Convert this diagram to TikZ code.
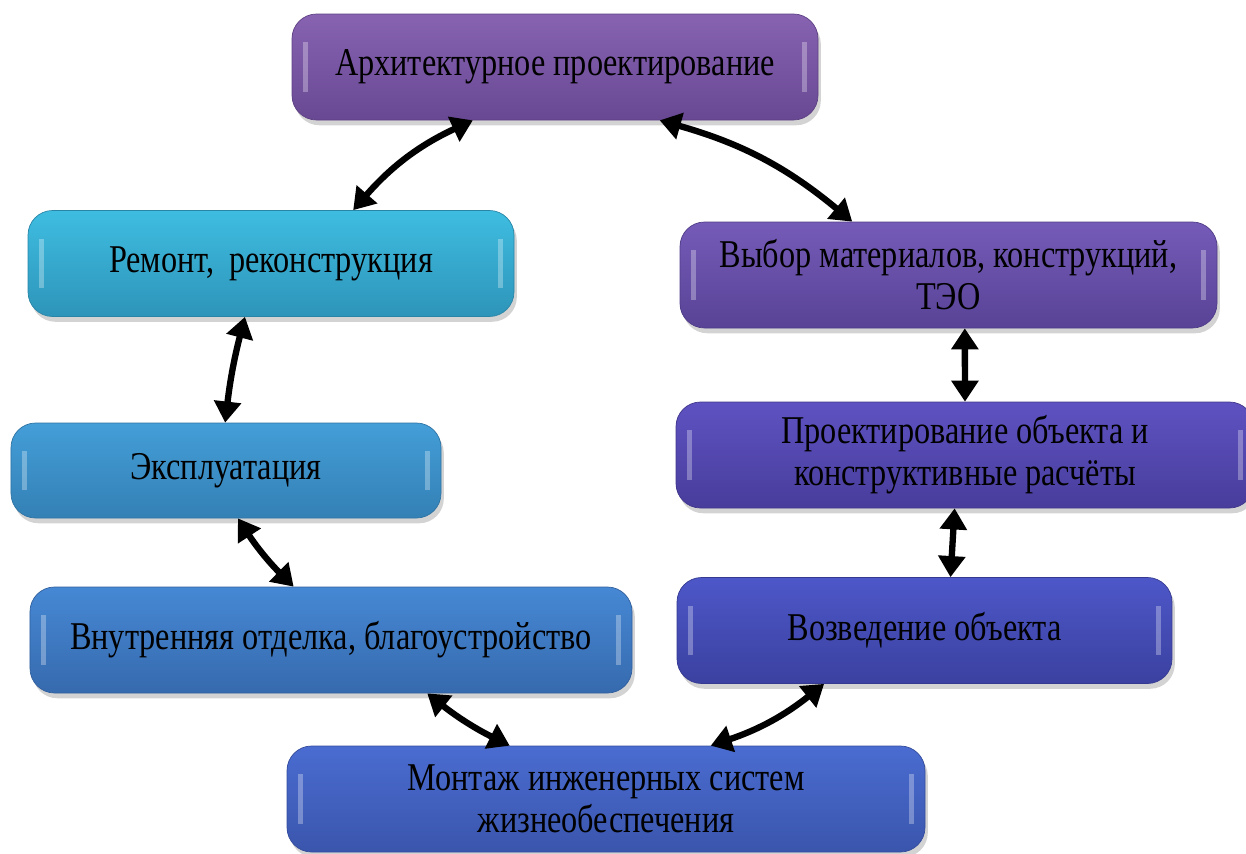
\documentclass[tikz,border=0pt]{standalone}
\usepackage{fontspec}
\setmainfont{Liberation Serif}
\newfontfamily\stagefont[FakeStretch=0.82]{Liberation Serif}
\usepackage{tikz}
\usetikzlibrary{arrows.meta,shadows}

\definecolor{archtop}{HTML}{8763B2}
\definecolor{archbot}{HTML}{684893}
\definecolor{remtop}{HTML}{3EBDE1}
\definecolor{rembot}{HTML}{2E94B9}
\definecolor{explTop}{HTML}{449ED8}
\definecolor{explBot}{HTML}{3380B5}
\definecolor{vnuTop}{HTML}{4688D4}
\definecolor{vnuBot}{HTML}{366AAE}
\definecolor{monTop}{HTML}{4A6CD1}
\definecolor{monBot}{HTML}{3A55AC}
\definecolor{vozTop}{HTML}{4D57C8}
\definecolor{vozBot}{HTML}{3B41A0}
\definecolor{proTop}{HTML}{5E52C2}
\definecolor{proBot}{HTML}{483D9B}
\definecolor{vybTop}{HTML}{755BB8}
\definecolor{vybBot}{HTML}{584396}

\tikzset{
    stage/.style 2 args={rounded corners=7pt, top color=#1, bottom color=#2,
        draw=#2!90!black, line width=0.2pt,
        minimum height=1.06cm, align=center, inner sep=2pt,
        font=\stagefont\fontsize{11.2}{12}\selectfont,
        drop shadow={opacity=0.35, shadow xshift=0.8pt, shadow yshift=-1.5pt},
        path picture={
            \fill[white, opacity=0.3, sharp corners] ([xshift=3pt,yshift=-8pt]path picture bounding box.north west) rectangle ([xshift=4.5pt,yshift=8pt]path picture bounding box.south west);
            \fill[white, opacity=0.3, sharp corners] ([xshift=-4.5pt,yshift=-8pt]path picture bounding box.north east) rectangle ([xshift=-3pt,yshift=8pt]path picture bounding box.south east);
        }},
    link/.style={line width=1.8pt, {Triangle[length=6pt,width=7.5pt]}-{Triangle[length=6pt,width=7.5pt]}},
}

\begin{document}
\begin{tikzpicture}
    \useasboundingbox (0,0) rectangle (12.46,8.53);

    \node[stage={archtop}{archbot}, minimum width=5.26cm] (arch) at (5.55,7.86) {Архитектурное проектирование};
    \node[stage={vybTop}{vybBot}, minimum width=5.37cm] (vybor) at (9.485,5.78) {Выбор материалов, конструкций,\\ТЭО};
    \node[stage={proTop}{proBot}, minimum width=5.78cm] (proekt) at (9.65,3.98) {Проектирование объекта и\\конструктивные расчёты};
    \node[stage={vozTop}{vozBot}, minimum width=4.95cm] (vozv) at (9.245,2.225) {Возведение объекта};
    \node[stage={monTop}{monBot}, minimum width=6.38cm] (montazh) at (6.06,0.54) {Монтаж инженерных систем\\жизнеобеспечения};
    \node[stage={vnuTop}{vnuBot}, minimum width=6.02cm] (vnutr) at (3.31,2.13) {Внутренняя отделка, благоустройство};
    \node[stage={explTop}{explBot}, minimum width=4.30cm, minimum height=0.95cm] (ekspl) at (2.26,3.825) {Эксплуатация};
    \node[stage={remtop}{rembot}, minimum width=4.86cm] (remont) at (2.71,5.895) {Ремонт,\, реконструкция};

    % links around the cycle
    \draw[link] (arch.333) to[bend left=12] (vybor.151);
    \draw[link] (vybor.287) -- (proekt.north);
    \draw[link] (proekt.259) -- (vozv.64);
    \draw[link] (vozv.208) to[bend left=10] (montazh.27);
    \draw[link] (montazh.151) to[bend left=6] (vnutr.331);
    \draw[link] (vnutr.125) to[bend left=6] (ekspl.284);
    \draw[link] (ekspl.91) to[bend left=4] (remont.244);
    \draw[link] (remont.33) to[bend left=12] (arch.213);
\end{tikzpicture}
\end{document}
